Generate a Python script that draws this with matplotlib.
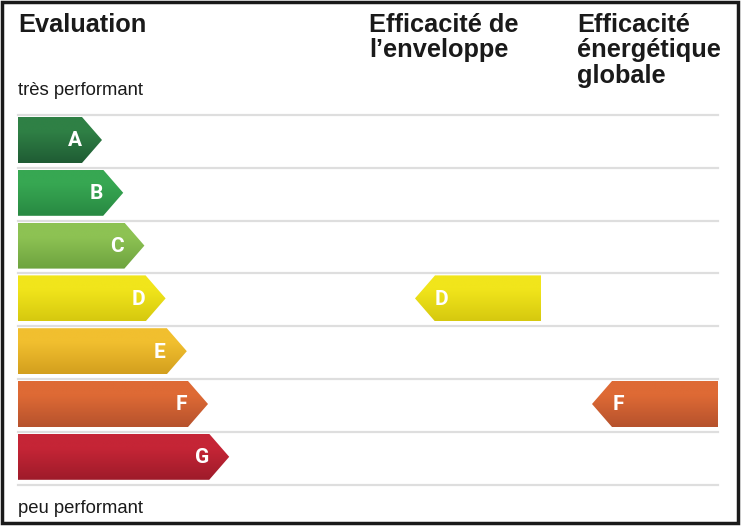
import numpy as np
import matplotlib
matplotlib.use("Agg")
from matplotlib import pyplot as plt
from matplotlib.patches import Polygon, Rectangle
from matplotlib.colors import to_rgb

# classes energetiques, du meilleur au pire
classes = ["A", "B", "C", "D", "E", "F", "G"]
couleurs_haut = ["#2f8045", "#37a752", "#8dc253", "#f1e51b", "#f1bf2f", "#de6a35", "#c52536"]
couleurs_bas = ["#1f5c34", "#288942", "#6da33f", "#d6c90f", "#d39f1e", "#b6522d", "#9e1b2a"]

# resultats du batiment
note_enveloppe = "D"
note_globale = "F"

titre = "Evaluation"
entete_enveloppe = ["Efficacité de", "l\u2019enveloppe"]
entete_globale = ["Efficacité", "énergétique", "globale"]
haut_label = "très performant"
bas_label = "peu performant"

W, H = 741, 527
fig = plt.figure(figsize=(W / 100, H / 100), dpi=100)
ax = fig.add_axes([0, 0, 1, 1])
ax.set_xlim(0, W)
ax.set_ylim(H, 0)
ax.axis("off")

x0 = 18
x_fin = 718
y_premier = 117
pas = 52.8
h_barre = 46
pointe = 20
corps0 = 82
pas_corps = 21.2


def degrade(poly, haut, bas, ytop, h, xa, xb):
    c1 = np.array(to_rgb(haut))
    c2 = np.array(to_rgb(bas))
    t = np.linspace(0, 1, 64)
    t = np.clip((t - 0.3) / 0.7, 0, 1)
    img = (c1[None, :] * (1 - t[:, None]) + c2[None, :] * t[:, None])[:, None, :]
    ax.add_patch(poly)
    im = ax.imshow(img, extent=(xa, xb, ytop + h, ytop), origin="upper",
                   aspect="auto", interpolation="bilinear", zorder=2)
    im.set_clip_path(poly)


# lignes de separation
for i in range(len(classes) + 1):
    y = y_premier - 2 + pas * i
    ax.plot([x0, x_fin], [y, y], color="#dedede", lw=1.6, zorder=1)

lettre_font = dict(color="white", fontsize=15, fontweight="bold",
                   family=["Roboto", "DejaVu Sans"], ha="center", va="center", zorder=3)

# echelle a gauche
for i, c in enumerate(classes):
    yt = y_premier + pas * i
    xc = corps0 + pas_corps * i
    pts = [(x0, yt), (xc, yt), (xc + pointe, yt + h_barre / 2), (xc, yt + h_barre), (x0, yt + h_barre)]
    poly = Polygon(pts, closed=True, facecolor="none", edgecolor="none")
    degrade(poly, couleurs_haut[i], couleurs_bas[i], yt, h_barre, x0, xc + pointe)
    ax.text(xc - 7, yt + h_barre / 2 + 1, c, **lettre_font)


def fleche_gauche(note, x_pointe, x_droite):
    i = classes.index(note)
    yt = y_premier + pas * i
    xb = x_pointe + pointe
    pts = [(x_pointe, yt + h_barre / 2), (xb, yt), (x_droite, yt), (x_droite, yt + h_barre), (xb, yt + h_barre)]
    poly = Polygon(pts, closed=True, facecolor="none", edgecolor="none")
    degrade(poly, couleurs_haut[i], couleurs_bas[i], yt, h_barre, x_pointe, x_droite)
    ax.text(xb + 6, yt + h_barre / 2 + 1, note, **lettre_font)


fleche_gauche(note_enveloppe, 415, 541)
fleche_gauche(note_globale, 592, 718)

# textes
tete = dict(fontsize=18.3, fontweight="bold", family=["Liberation Sans", "DejaVu Sans"],
            color="#1a1a1a", va="baseline", ha="left")
ax.text(x0, 32, titre, **tete)
for k, s in enumerate(entete_enveloppe):
    ax.text(369, 32 + 25.5 * k, s, **tete)
for k, s in enumerate(entete_globale):
    ax.text(577, 32 + 25.5 * k, s, **tete)

petit = dict(fontsize=13.3, family=["Liberation Sans", "DejaVu Sans"], color="#1a1a1a",
             va="baseline", ha="left")
ax.text(x0, 95, haut_label, **petit)
ax.text(x0, 513, bas_label, **petit)

# cadre
ax.add_patch(Rectangle((2, 2), 736, 521, facecolor="none", edgecolor="#1a1a1a", lw=2.5, zorder=5))

fig.savefig("out.png", dpi=100)
